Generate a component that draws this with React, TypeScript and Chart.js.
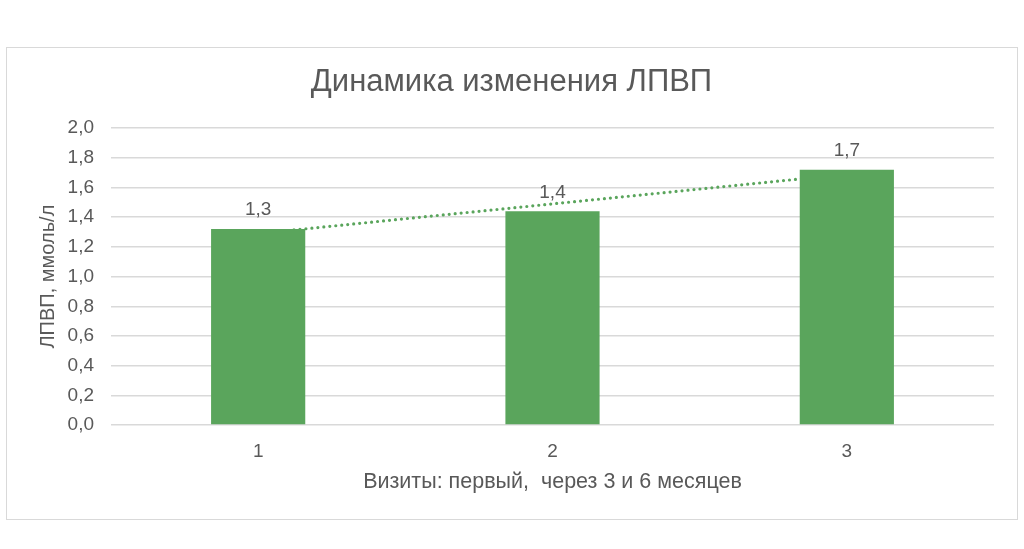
import { useEffect, useRef } from 'react'
import { Chart, registerables, type Plugin } from 'chart.js'

Chart.register(...registerables)

// chart data
const VISITS = ['1', '2', '3']
const HDL_VALUES = [1.32, 1.44, 1.72]
const TREND_VALUES = [1.29, 1.49, 1.69]
const Y_TICKS = [0, 0.2, 0.4, 0.6, 0.8, 1.0, 1.2, 1.4, 1.6, 1.8, 2.0]

const TITLE = 'Динамика изменения ЛПВП'
const X_TITLE = 'Визиты: первый,  через 3 и 6 месяцев'
const Y_TITLE = 'ЛПВП, ммоль/л'

const GREEN = '#5aa55c'
const TEXT = '#595959'
const GRID = '#d9d9d9'
const FONT = "'Liberation Sans', Arial, sans-serif"

const fmt = (v: number) => v.toFixed(1).replace('.', ',')

// draws the value above each bar, like Excel data labels
const barLabels: Plugin<'bar'> = {
  id: 'barLabels',
  afterDatasetsDraw(chart) {
    const meta = chart.getDatasetMeta(0)
    const ctx = chart.ctx
    ctx.save()
    ctx.fillStyle = TEXT
    ctx.font = `19px ${FONT}`
    ctx.textAlign = 'center'
    ctx.textBaseline = 'middle'
    meta.data.forEach((el, i) => {
      ctx.fillText(fmt(HDL_VALUES[i]), el.x, el.y - 19)
    })
    ctx.restore()
  },
}

export default function App() {
  const canvasRef = useRef<HTMLCanvasElement>(null)

  useEffect(() => {
    const canvas = canvasRef.current
    if (!canvas) return
    Chart.getChart(canvas)?.destroy()

    const chart = new Chart(canvas, {
      type: 'bar',
      data: {
        labels: VISITS,
        datasets: [
          {
            type: 'bar',
            data: HDL_VALUES,
            backgroundColor: GREEN,
            barPercentage: 0.32,
            categoryPercentage: 1,
            order: 1,
          },
          {
            type: 'line',
            data: TREND_VALUES,
            borderColor: GREEN,
            borderWidth: 3.2,
            borderDash: [0, 6],
            borderCapStyle: 'round',
            pointRadius: 0,
            fill: false,
            order: 2,
          } as any,
        ],
      },
      options: {
        animation: false,
        responsive: true,
        maintainAspectRatio: false,
        layout: { padding: { left: 29, right: 30, top: 0, bottom: 54 } },
        plugins: {
          legend: { display: false },
          tooltip: { enabled: false },
          title: {
            display: true,
            text: TITLE,
            color: TEXT,
            font: { family: FONT, size: 31, weight: 'normal' },
            padding: { top: 64, bottom: 27 },
          },
        },
        scales: {
          x: {
            grid: { display: false, drawTicks: false },
            border: { display: false },
            ticks: { color: TEXT, font: { family: FONT, size: 19 }, padding: 15 },
            title: {
              display: true,
              text: X_TITLE,
              color: TEXT,
              font: { family: FONT, size: 21.5 },
              padding: { top: 0, bottom: 0 },
            },
            afterFit: (scale) => {
              scale.height = 70
            },
          },
          y: {
            min: 0,
            max: 2,
            afterBuildTicks: (scale) => {
              scale.ticks = Y_TICKS.map((v) => ({ value: v }))
            },
            afterFit: (scale) => {
              scale.width = 82
            },
            grid: { color: GRID, lineWidth: 1.5, drawTicks: false },
            border: { display: false },
            ticks: {
              color: TEXT,
              font: { family: FONT, size: 19 },
              padding: 17,
              callback: (v) => fmt(Number(v)),
            },
            title: {
              display: true,
              text: Y_TITLE,
              color: TEXT,
              font: { family: FONT, size: 20 },
              padding: { top: 7, bottom: 0 },
            },
          },
        },
      },
      plugins: [barLabels as any],
    })

    return () => chart.destroy()
  }, [])

  return (
    <>
      <div
        style={{
          position: 'fixed',
          left: 6,
          top: 47,
          width: 1012,
          height: 473,
          border: `1.5px solid ${GRID}`,
          boxSizing: 'border-box',
          background: '#fff',
        }}
      />
      <div style={{ position: 'fixed', left: 0, top: 0, width: 1024, height: 549 }}>
        <canvas ref={canvasRef} />
      </div>
    </>
  )
}
